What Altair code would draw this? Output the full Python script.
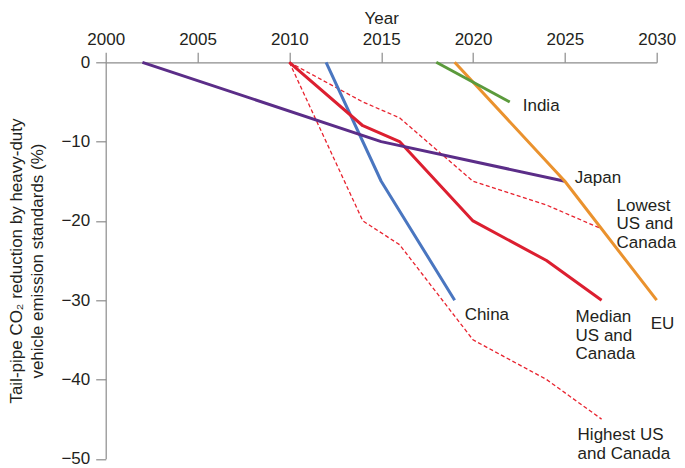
import altair as alt
import pandas as pd

# ---- data ----
series_names = ["Highest US and Canada", "Lowest US and Canada", "China",
                "Median US and Canada", "Japan", "EU", "India"]

highest_years = [2010, 2014, 2016, 2020, 2024, 2027]
highest_vals = [0, -20, -23, -35, -40, -45]
lowest_years = [2010, 2014, 2016, 2020, 2024, 2027]
lowest_vals = [0, -5, -7, -15, -18, -21]
median_years = [2010, 2014, 2016, 2020, 2024, 2027]
median_vals = [0, -8, -10, -20, -25, -30]
china_years = [2012, 2015, 2019]
china_vals = [0, -15, -30]
japan_years = [2002, 2015, 2025]
japan_vals = [0, -10, -15]
eu_years = [2019, 2025, 2030]
eu_vals = [0, -15, -30]
india_years = [2018, 2022]
india_vals = [0, -5]

x_ticks = [2000, 2005, 2010, 2015, 2020, 2025, 2030]
y_ticks = [0, -10, -20, -30, -40, -50]

colors = ["#e8232f", "#e8232f", "#4a76c0", "#dc1f30", "#5b2d88", "#ea922e", "#5b9a3c"]

label_lines = {
    "India": ["India"],
    "Japan": ["Japan"],
    "Lowest US and Canada": ["Lowest", "US and", "Canada"],
    "China": ["China"],
    "Median US and Canada": ["Median", "US and", "Canada"],
    "EU": ["EU"],
    "Highest US and Canada": ["Highest US", "and Canada"],
}

all_data = {
    "Highest US and Canada": (highest_years, highest_vals),
    "Lowest US and Canada": (lowest_years, lowest_vals),
    "China": (china_years, china_vals),
    "Median US and Canada": (median_years, median_vals),
    "Japan": (japan_years, japan_vals),
    "EU": (eu_years, eu_vals),
    "India": (india_years, india_vals),
}

rows = []
for name in series_names:
    yrs, vals = all_data[name]
    for yr, v in zip(yrs, vals):
        rows.append({"series": name, "year": yr, "value": v})
df = pd.DataFrame(rows)

FONT = "Liberation Sans"
TXT = "#231f20"

color_scale = alt.Scale(domain=series_names, range=colors)

x_enc = alt.X("year:Q", scale=alt.Scale(domain=[2000, 2030], nice=False, zero=False),
              axis=alt.Axis(orient="top", values=x_ticks, format="d", title="Year",
                            labelPadding=4, titlePadding=3, labelFlush=False))
y_enc = alt.Y("value:Q", scale=alt.Scale(domain=[-50, 0], nice=False),
              axis=alt.Axis(values=y_ticks, labelPadding=6, titlePadding=14,
                            labelFlush=False,
                            title=["Tail-pipe CO\u2082 reduction by heavy-duty",
                                   "vehicle emission standards (%)"]))

dashed_names = ["Highest US and Canada", "Lowest US and Canada"]
solid_names = [n for n in series_names if n not in dashed_names]

dashed = alt.Chart(df).transform_filter(
    alt.FieldOneOfPredicate(field="series", oneOf=dashed_names)
).mark_line(strokeWidth=1.3, strokeDash=[4, 2.5]).encode(
    x=x_enc, y=y_enc,
    color=alt.Color("series:N", scale=color_scale, legend=None),
    detail="series:N",
)

solid = alt.Chart(df).transform_filter(
    alt.FieldOneOfPredicate(field="series", oneOf=solid_names)
).mark_line(strokeWidth=3, strokeCap="butt", strokeJoin="round").encode(
    x="year:Q", y="value:Q",
    color=alt.Color("series:N", scale=color_scale, legend=None),
    detail="series:N",
)

# label offsets (first line) relative to the series' last point
offsets = {
    "India": (13, 4),
    "Japan": (10, -3),
    "Lowest US and Canada": (15, -23),
    "China": (10, 15),
    "Median US and Canada": (-26, 17),
    "EU": (-6, 24),
    "Highest US and Canada": (-24, 16),
}

layers = [dashed, solid]
for name in series_names:
    yrs, vals = all_data[name]
    pt = pd.DataFrame({"year": [yrs[-1]], "value": [vals[-1]]})
    dx, dy = offsets[name]
    lines = label_lines[name]
    layers.append(
        alt.Chart(pt).mark_text(
            text=lines if len(lines) > 1 else lines[0],
            align="left", baseline="middle", dx=dx, dy=dy,
            font=FONT, fontSize=17, lineHeight=18.5, color=TXT,
        ).encode(x="year:Q", y="value:Q")
    )

chart = alt.layer(*layers).properties(
    width=551, height=396.5,
    autosize=alt.AutoSizeParams(type="none"),
    padding={"left": 97.7, "top": 54.3, "right": 20, "bottom": 8},
).configure_axis(
    domainColor="#8c8c8c", tickColor="#8c8c8c", tickSize=10,
    domainWidth=1.2, tickWidth=1.2,
    labelFont=FONT, labelFontSize=17, labelColor=TXT,
    titleFont=FONT, titleFontSize=17, titleColor=TXT, titleFontWeight="normal",
    titleLineHeight=21, grid=False,
).configure_view(stroke=None)

chart.save("out.html", embed_options={"renderer": "svg", "actions": False})
